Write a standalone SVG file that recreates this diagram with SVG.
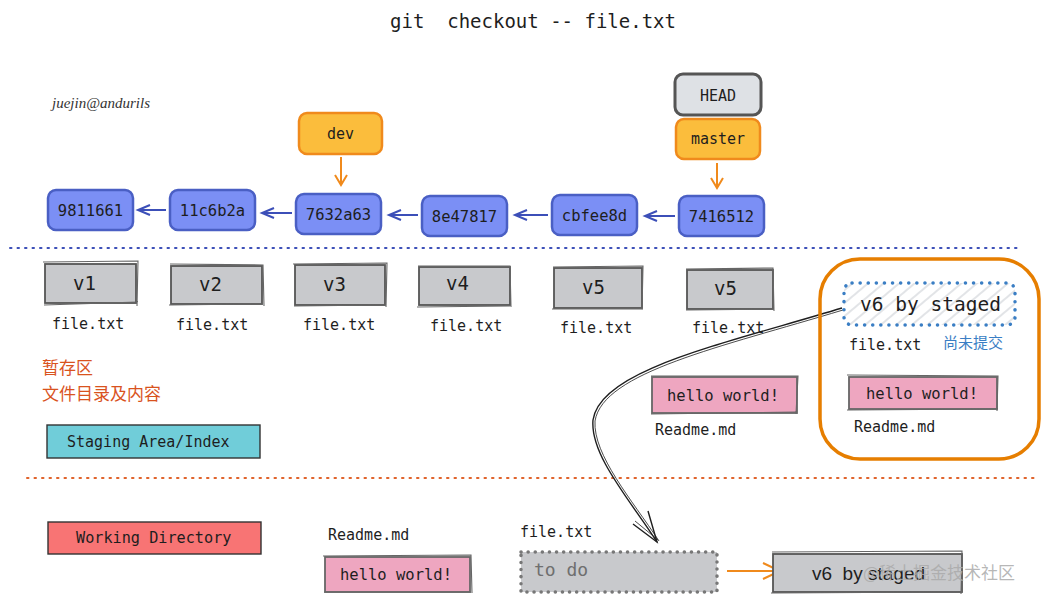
<svg xmlns="http://www.w3.org/2000/svg" width="1052" height="601" viewBox="0 0 1052 601">
<style>
text{white-space:pre}
.mono{font-family:"DejaVu Sans Mono","Liberation Mono",monospace;fill:#1e1e1e}
.c{text-anchor:middle}
.commit rect{fill:#7b8ff5;stroke:#4a5fc4;stroke-width:2.5}
.branch rect{fill:#fbbd3c;stroke:#f08a1c;stroke-width:2.5}
.gbox{fill:#c8c9cc;stroke:#555;stroke-width:1.8}
.gsk{fill:none;stroke:#666;stroke-width:1.1}
.pink{fill:#eea6c0;stroke:#666;stroke-width:1.8}
.blue-arr{stroke:#3c4fb8;stroke-width:2;fill:none}
.or-arr{stroke:#f08a1c;stroke-width:2;fill:none}
.zh{font-family:"Noto Sans CJK SC","Noto Sans",sans-serif}
</style>
<defs>
<marker id="ab" markerWidth="16" markerHeight="16" refX="13" refY="7" orient="auto" markerUnits="userSpaceOnUse">
<path d="M1 2 L13 7 L1 12" fill="none" stroke="#3c4fb8" stroke-width="2"/>
</marker>
<pattern id="hatch" width="10" height="10" patternUnits="userSpaceOnUse" patternTransform="rotate(-40)">
<line x1="0" y1="5" x2="10" y2="5" stroke="#cfd2d6" stroke-width="1.2"/>
</pattern>
</defs>
<rect width="1052" height="601" fill="#ffffff"/>

<text class="mono c" x="533" y="28" font-size="19">git  checkout -- file.txt</text>
<text x="52" y="108" font-family="Liberation Serif,serif" font-style="italic" font-size="15" fill="#333">juejin@andurils</text>

<!-- separators -->
<line x1="10" y1="248" x2="1020" y2="248" stroke="#3c4fb8" stroke-width="2" stroke-dasharray="1.5 6" stroke-linecap="round"/>
<line x1="27" y1="478" x2="1037" y2="478" stroke="#e0632b" stroke-width="2" stroke-dasharray="1.5 6" stroke-linecap="round"/>

<!-- connectors -->
<g id="connectors">
<line x1="166" y1="210" x2="138" y2="210" class="blue-arr" marker-end="url(#ab)"/>
<line x1="292" y1="213" x2="262" y2="213" class="blue-arr" marker-end="url(#ab)"/>
<line x1="418" y1="215" x2="389" y2="215" class="blue-arr" marker-end="url(#ab)"/>
<line x1="548" y1="215" x2="515" y2="215" class="blue-arr" marker-end="url(#ab)"/>
<line x1="675" y1="216" x2="645" y2="216" class="blue-arr" marker-end="url(#ab)"/>
<path d="M341 157 L341 185 M335 175 L341 185 L347 175" class="or-arr"/>
<path d="M717 163 L717 188 M711 178 L717 188 L723 178" class="or-arr"/>
<path d="M727 571 L779 571 M763 563 L780 571 L763 579" class="or-arr"/>
<path d="M842 308 C 720 345, 600 370, 593 420 C 590 455, 630 500, 657 542" fill="none" stroke="#1e1e1e" stroke-width="1.4"/>
<path d="M843 310 C 721 347, 603 372, 595 421 C 593 455, 632 500, 659 541" fill="none" stroke="#1e1e1e" stroke-width="0.8"/>
<path d="M633 524 L657 542 L648 511" fill="none" stroke="#1e1e1e" stroke-width="1.4"/>
<path d="M635 521 L658 540" fill="none" stroke="#1e1e1e" stroke-width="0.8"/>
</g>

<!-- commits -->
<g id="c9811661" class="commit"><rect x="48" y="190" width="85" height="40" rx="8"/><text class="mono c" x="90.5" y="216" font-size="15.5">9811661</text></g>
<g id="c11c6b2a" class="commit"><rect x="170" y="190" width="85" height="40" rx="8"/><text class="mono c" x="212.5" y="216" font-size="15.5">11c6b2a</text></g>
<g id="c7632a63" class="commit"><rect x="296" y="194" width="85" height="40" rx="8"/><text class="mono c" x="338.5" y="220" font-size="15.5">7632a63</text></g>
<g id="c8e47817" class="commit"><rect x="422" y="196" width="85" height="40" rx="8"/><text class="mono c" x="464.5" y="222" font-size="15.5">8e47817</text></g>
<g id="ccbfee8d" class="commit"><rect x="552" y="195" width="85" height="40" rx="8"/><text class="mono c" x="594.5" y="221" font-size="15.5">cbfee8d</text></g>
<g id="c7416512" class="commit"><rect x="679" y="196" width="85" height="40" rx="8"/><text class="mono c" x="721.5" y="222" font-size="15.5">7416512</text></g>

<!-- branches -->
<g id="dev" class="branch"><rect x="299" y="113" width="83" height="41" rx="8"/><text class="mono c" x="340.5" y="139" font-size="15">dev</text></g>
<g id="head"><rect x="675" y="74" width="86" height="41" rx="8" fill="#dee1e5" stroke="#555" stroke-width="3"/><text class="mono c" x="718" y="101" font-size="15">HEAD</text></g>
<g id="master" class="branch"><rect x="676" y="119" width="84" height="40" rx="8"/><text class="mono c" x="718" y="144" font-size="15">master</text></g>

<!-- staging files -->
<g id="v1"><rect class="gbox" x="45" y="264" width="91" height="39"/><path class="gsk" d="M43 262 L138 261 L137 306 M44 305 L138 302"/><text class="mono" x="73" y="290" font-size="19">v1</text><text class="mono" x="52" y="329" font-size="15">file.txt</text></g>
<g id="v2"><rect class="gbox" x="171" y="266" width="91" height="38"/><path class="gsk" d="M170 264 L263 265 L264 306 M169 305 L263 304"/><text class="mono" x="199" y="291" font-size="19">v2</text><text class="mono" x="176" y="330" font-size="15">file.txt</text></g>
<g id="v3"><rect class="gbox" x="295" y="265" width="90" height="40"/><path class="gsk" d="M293 264 L387 263 L386 307 M294 306 L385 305"/><text class="mono" x="323" y="291" font-size="19">v3</text><text class="mono" x="303" y="330" font-size="15">file.txt</text></g>
<g id="v4"><rect class="gbox" x="419" y="267" width="91" height="38"/><path class="gsk" d="M418 266 L510 266 L511 307 M417 307 L510 306"/><text class="mono" x="446" y="290" font-size="19">v4</text><text class="mono" x="430" y="331" font-size="15">file.txt</text></g>
<g id="v5a"><rect class="gbox" x="554" y="268" width="88" height="40"/><path class="gsk" d="M553 267 L643 266 L642 310 M552 309 L641 309"/><text class="mono" x="582" y="294" font-size="19">v5</text><text class="mono" x="560" y="333" font-size="15">file.txt</text></g>
<g id="v5b"><rect class="gbox" x="687" y="270" width="86" height="39"/><path class="gsk" d="M686 269 L773 268 L774 311 M686 310 L773 309"/><text class="mono" x="714" y="295" font-size="19">v5</text><text class="mono" x="692" y="333" font-size="15">file.txt</text></g>

<!-- staged group -->
<g id="staged">
<rect x="820" y="259" width="219" height="200" rx="40" fill="none" stroke="#e67e00" stroke-width="3.5"/>
<rect x="844" y="283" width="171" height="42" rx="8" fill="url(#hatch)" stroke="#3a7ec4" stroke-width="3.5" stroke-dasharray="0.1 8" stroke-linecap="round"/>
<text class="mono" x="860" y="311" font-size="19.5">v6 by staged</text>
<text class="mono" x="849" y="350" font-size="15">file.txt</text>
<text class="zh" x="943" y="348" font-size="15" fill="#3a7ec4">尚未提交</text>
<g id="hello2"><rect class="pink" x="849" y="377" width="148" height="32"/><path class="gsk" d="M847 375 L998 376 L997 411 M847 410 L998 409"/><text class="mono" x="866" y="399" font-size="15.5">hello world!</text></g>
<text class="mono" x="854" y="432" font-size="15">Readme.md</text>
</g>

<g id="hello1"><rect class="pink" x="652" y="377" width="145" height="36"/><path class="gsk" d="M651 376 L798 376 L796 414 M651 414 L797 412"/><text class="mono" x="667" y="401" font-size="15.5">hello world!</text><text class="mono" x="655" y="435" font-size="15">Readme.md</text></g>

<!-- labels -->
<g id="zh-label" class="zh" fill="#d9531e" font-size="17">
<text x="42" y="374">暂存区</text>
<text x="42" y="400">文件目录及内容</text>
</g>
<g id="staging-label"><rect x="47" y="425" width="213" height="33" fill="#70cdd9" stroke="#333" stroke-width="1.4"/><text class="mono" x="67" y="447" font-size="15">Staging Area/Index</text></g>

<!-- working directory -->
<g id="wd-label"><rect x="48" y="522" width="213" height="32" fill="#f87474" stroke="#333" stroke-width="1.4"/><text class="mono" x="76" y="543" font-size="15.2">Working Directory</text></g>
<g id="wd-readme"><text class="mono" x="328" y="540" font-size="15">Readme.md</text><rect class="pink" x="325" y="557" width="145" height="35"/><path class="gsk" d="M323 556 L471 555 L472 593 M324 592 L471 592"/><text class="mono" x="340" y="580" font-size="15.5">hello world!</text></g>
<g id="wd-file"><text class="mono" x="520" y="537" font-size="15">file.txt</text><rect x="521" y="552" width="196" height="40" fill="#c8c9cc" stroke="#777" stroke-width="3.5" stroke-dasharray="0.1 7" stroke-linecap="round"/><text x="534" y="576" font-family="DejaVu Sans Mono,monospace" font-size="18" fill="#6f6f6f">to do</text></g>
<g id="wd-v6"><rect class="gbox" x="773" y="554" width="189" height="38"/><path class="gsk" d="M772 552 L962 551 L961 594 M771 593 L962 592"/><text x="812" y="580" font-family="Liberation Sans,Arial,sans-serif" font-size="19" fill="#1e1e1e">v6  by staged</text></g>
<text class="zh" x="863" y="579" font-size="17" fill="#aaaaaa" fill-opacity="0.85">@稀土掘金技术社区</text>
</svg>
